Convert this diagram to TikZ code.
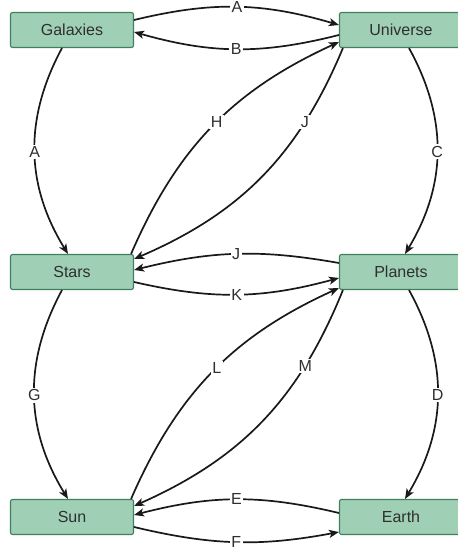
\documentclass[tikz,border=0pt]{standalone}
\usepackage{fontspec}
\setmainfont{Liberation Sans}
\usepackage{tikz}
\usetikzlibrary{arrows.meta}
\definecolor{boxfill}{HTML}{9FD0B5}
\definecolor{boxline}{HTML}{3F7F5F}
\definecolor{ink}{HTML}{2F2F2F}

\begin{document}
\begin{tikzpicture}[x=1pt, y=1pt, line width=1.7pt,
    box/.style={draw=boxline, fill=boxfill, line width=1.1pt, rounded corners=2pt,
        minimum width=123pt, minimum height=35pt, inner sep=0pt, text=ink,
        font=\fontsize{16}{18}\selectfont},
    lbl/.style={fill=white, inner sep=1.5pt, text=ink, font=\fontsize{16}{18}\selectfont},
    arr/.style={-{Stealth[length=10pt, width=8pt, inset=2.5pt]}, draw=black!90}]
    \useasboundingbox (0,0) rectangle (458,-550);

    \node[box] (gal) at (72,-30) {Galaxies};
    \node[box] (uni) at (401,-30) {Universe};
    \node[box] (stars) at (72,-272) {Stars};
    \node[box] (planets) at (401,-272) {Planets};
    \node[box] (sun) at (72,-517) {Sun};
    \node[box] (earth) at (401,-517) {Earth};

    \draw[arr] ([yshift=10]gal.east) to[bend left=15] node[lbl]{A} ([yshift=5]uni.west);
    \draw[arr] ([yshift=-5]uni.west) to[bend left=15] node[lbl]{B} ([yshift=-2]gal.east);
    \draw[arr] ([xshift=-10]gal.south) to[bend right=30] node[lbl]{A} ([xshift=-4]stars.north);
    \draw[arr] ([xshift=8]uni.south) to[bend left=30] node[lbl]{C} ([xshift=4]planets.north);
    \draw[arr] ([xshift=-3]stars.north east) to[bend left=21] node[lbl, pos=0.52]{H} ([yshift=-12]uni.west);
    \draw[arr] ([xshift=4]uni.south west) to[bend left=22] node[lbl, pos=0.26]{J} ([yshift=13]stars.east);

    \draw[arr] ([yshift=9]planets.west) to[bend right=12] node[lbl]{J} ([yshift=2]stars.east);
    \draw[arr] ([yshift=-10]stars.east) to[bend right=14] node[lbl]{K} ([yshift=-6]planets.west);
    \draw[arr] ([xshift=-10]stars.south) to[bend right=30] node[lbl]{G} ([xshift=-4]sun.north);
    \draw[arr] ([xshift=8]planets.south) to[bend left=30] node[lbl]{D} ([xshift=4]earth.north);
    \draw[arr] ([xshift=-3]sun.north east) to[bend left=21] node[lbl, pos=0.52]{L} ([yshift=-16]planets.west);
    \draw[arr] ([xshift=4]planets.south west) to[bend left=22] node[lbl, pos=0.26]{M} ([yshift=11]sun.east);

    \draw[arr] ([yshift=4]earth.west) to[bend right=14] node[lbl]{E} ([yshift=2]sun.east);
    \draw[arr] ([yshift=-10]sun.east) to[bend right=12] node[lbl]{F} ([yshift=-15]earth.west);
\end{tikzpicture}
\end{document}
